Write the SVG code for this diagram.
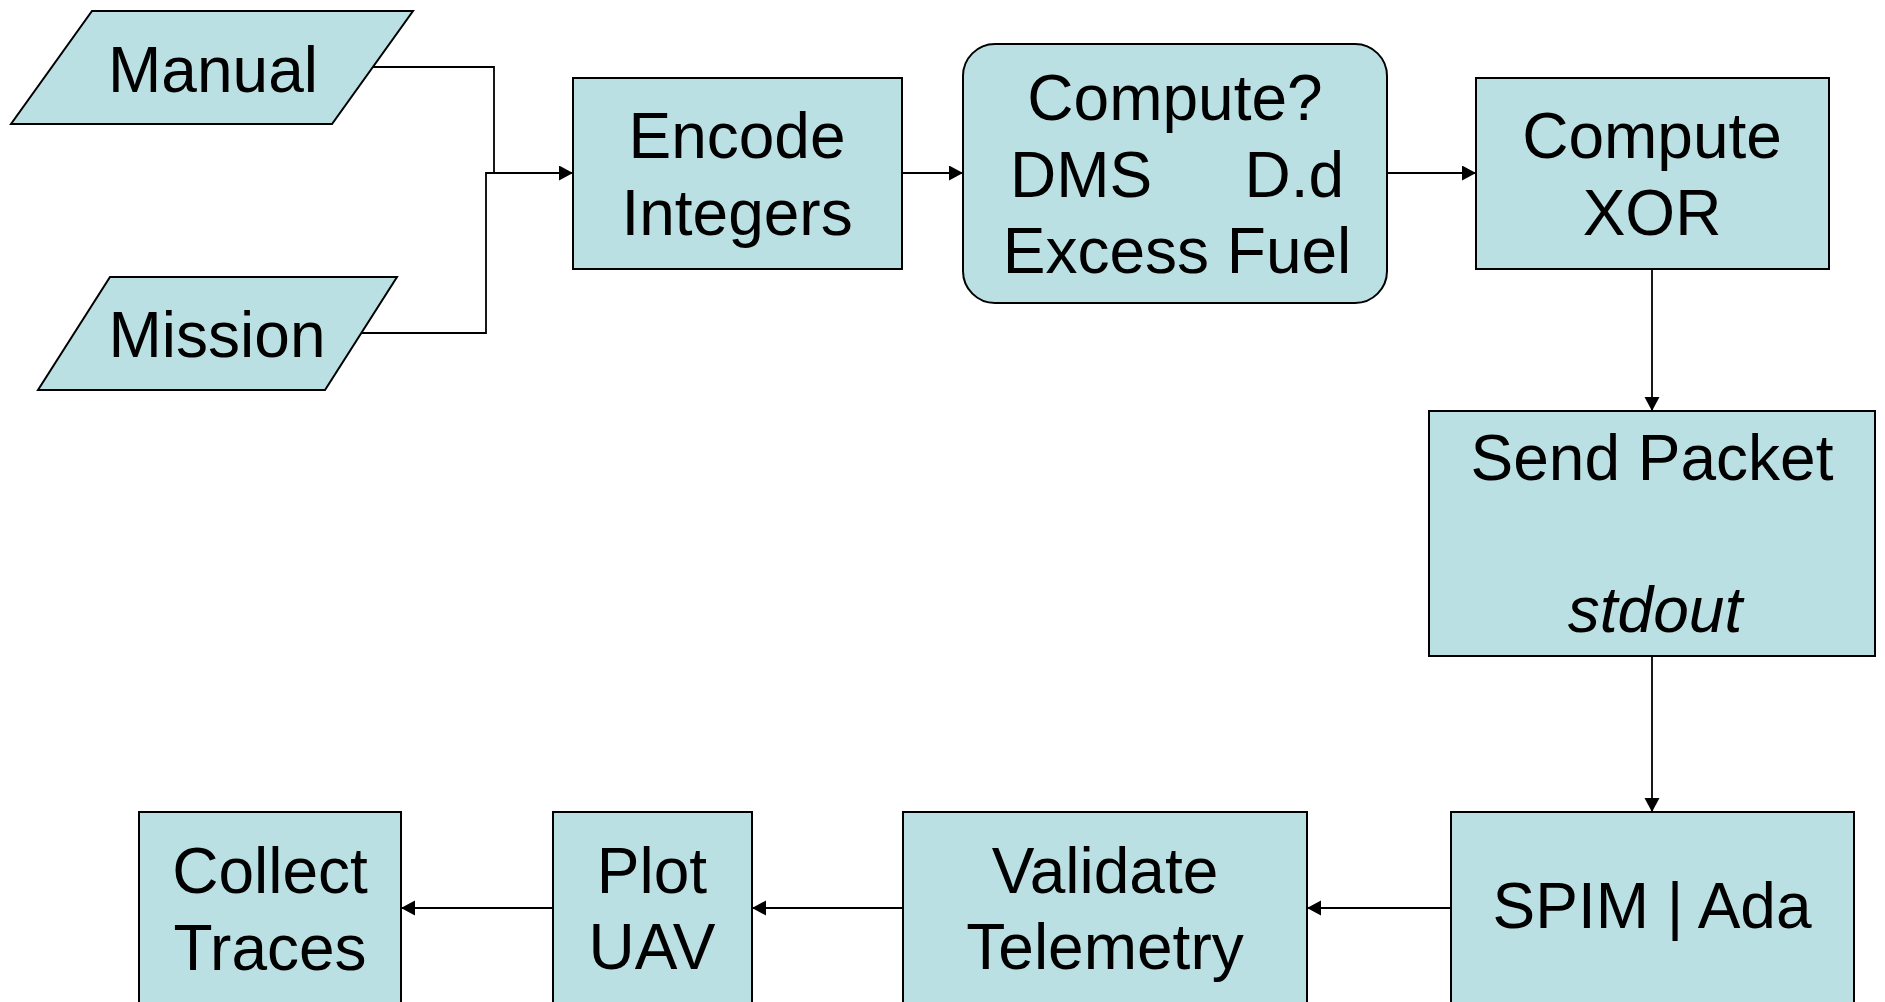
<svg xmlns="http://www.w3.org/2000/svg" width="1885" height="1002" viewBox="0 0 1885 1002">
<style>
.n{fill:#BBE0E3;stroke:#000;stroke-width:2}
.t{font-family:"Liberation Sans",Arial,sans-serif;font-size:64px;fill:#000;text-anchor:middle}
.c{fill:none;stroke:#000;stroke-width:1.8}
</style>
<defs>
<marker id="ah" markerUnits="userSpaceOnUse" markerWidth="16" markerHeight="16" refX="14" refY="7.5" orient="auto">
<path d="M0,0 L14,7.5 L0,15 z" fill="#000"/>
</marker>
</defs>
<rect width="1885" height="1002" fill="#fff"/>
<g id="connectors">
<path class="c" d="M373,67 H494 V173"/>
<path class="c" d="M362,333 H486 V173 H573" marker-end="url(#ah)"/>
<path class="c" d="M902,173 H963" marker-end="url(#ah)"/>
<path class="c" d="M1387,173 H1476" marker-end="url(#ah)"/>
<path class="c" d="M1652,269 V411" marker-end="url(#ah)"/>
<path class="c" d="M1652,656 V812" marker-end="url(#ah)"/>
<path class="c" d="M1451,908 H1307" marker-end="url(#ah)"/>
<path class="c" d="M903,908 H752" marker-end="url(#ah)"/>
<path class="c" d="M553,908 H401" marker-end="url(#ah)"/>
</g>
<g id="manual">
<polygon class="n" points="92,11 413,11 332,124 11,124"/>
<text class="t" x="213" y="92">Manual</text>
</g>
<g id="mission">
<polygon class="n" points="110,277 397,277 325,390 38,390"/>
<text class="t" x="217" y="357">Mission</text>
</g>
<g id="encode">
<rect class="n" x="573" y="78" width="329" height="191"/>
<text class="t" x="737" y="158">Encode</text>
<text class="t" x="737" y="235">Integers</text>
</g>
<g id="compute-choice">
<rect class="n" x="963" y="44" width="424" height="259" rx="32" ry="32"/>
<text class="t" x="1175" y="120">Compute?</text>
<text class="t" x="1010" y="197" style="text-anchor:start">DMS</text>
<text class="t" x="1344" y="197" style="text-anchor:end">D.d</text>
<text class="t" x="1177" y="273">Excess Fuel</text>
</g>
<g id="compute-xor">
<rect class="n" x="1476" y="78" width="353" height="191"/>
<text class="t" x="1652" y="158">Compute</text>
<text class="t" x="1652" y="235">XOR</text>
</g>
<g id="send-packet">
<rect class="n" x="1429" y="411" width="446" height="245"/>
<text class="t" x="1652" y="480">Send Packet</text>
<text class="t" x="1655" y="632" font-style="italic">stdout</text>
</g>
<g id="spim-ada">
<rect class="n" x="1451" y="812" width="403" height="200"/>
<text class="t" x="1652" y="928">SPIM | Ada</text>
</g>
<g id="validate">
<rect class="n" x="903" y="812" width="404" height="200"/>
<text class="t" x="1105" y="893">Validate</text>
<text class="t" x="1105" y="969">Telemetry</text>
</g>
<g id="plot">
<rect class="n" x="553" y="812" width="199" height="200"/>
<text class="t" x="652" y="893">Plot</text>
<text class="t" x="652" y="969">UAV</text>
</g>
<g id="collect">
<rect class="n" x="139" y="812" width="262" height="200"/>
<text class="t" x="270" y="893">Collect</text>
<text class="t" x="270" y="970">Traces</text>
</g>
</svg>
